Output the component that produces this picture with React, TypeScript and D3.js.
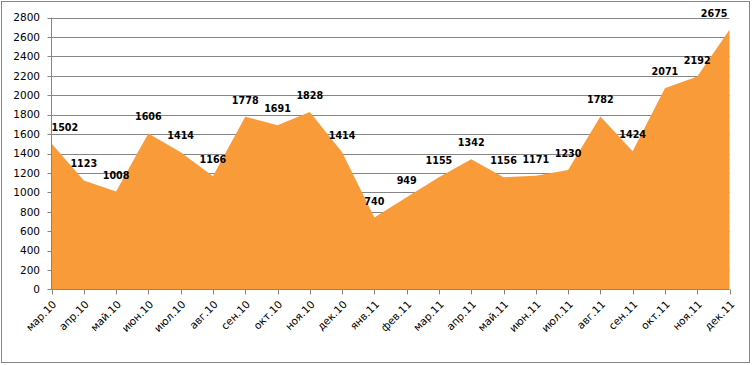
import React from "react";
import * as d3 from "d3";

// months on the x axis
const months = [
  "мар.10", "апр.10", "май.10", "июн.10", "июл.10", "авг.10", "сен.10",
  "окт.10", "ноя.10", "дек.10", "янв.11", "фев.11", "мар.11", "апр.11",
  "май.11", "июн.11", "июл.11", "авг.11", "сен.11", "окт.11", "ноя.11", "дек.11"
];

// values
const values = [
  1502, 1123, 1008, 1606, 1414, 1166, 1778, 1691, 1828, 1414, 740,
  949, 1155, 1342, 1156, 1171, 1230, 1782, 1424, 2071, 2192, 2675
];

const yTicks = [0, 200, 400, 600, 800, 1000, 1200, 1400, 1600, 1800, 2000, 2200, 2400, 2600, 2800];

const W = 752;
const H = 365;
const left = 51.5;
const right = 729.5;
const top = 17.5;
const bottom = 289.5;
const font = "'DejaVu Sans', Verdana, sans-serif";

const App = () => {
  const x = d3.scalePoint<string>().domain(months).range([left, right]);
  const y = d3.scaleLinear().domain([0, 2800]).range([bottom, top]);

  const area = d3
    .area<number>()
    .x((d, i) => x(months[i]) as number)
    .y0(y(0))
    .y1(d => y(d));

  return (
    <svg
      width={W}
      height={H}
      style={{ position: "absolute", left: 0, top: 0, background: "#fff" }}
    >
      {/* outer frame */}
      <rect x={1.5} y={1.5} width={748} height={361} fill="#fff" stroke="#868686" />

      {/* gridlines + y ticks */}
      {yTicks.map(t => (
        <g key={t}>
          {t > 0 && (
            <line x1={left - 4} x2={right} y1={Math.round(y(t)) + 0.5} y2={Math.round(y(t)) + 0.5} stroke="#868686" />
          )}
          <text
            x={40}
            y={y(t)}
            dy="0.36em"
            textAnchor="end"
            fontFamily={font}
            fontSize={10.5}
            fill="#000"
          >
            {t}
          </text>
        </g>
      ))}

      <path d={area(values) || ""} fill="#F99B38" />

      {/* axes */}
      <line x1={left} x2={left} y1={top} y2={bottom} stroke="#868686" />
      <line x1={left - 4} x2={right} y1={bottom} y2={bottom} stroke="#868686" />
      {months.map(m => (
        <g key={m}>
          <line
            x1={Math.round(x(m) as number) + 0.5}
            x2={Math.round(x(m) as number) + 0.5}
            y1={bottom}
            y2={bottom + 5}
            stroke="#868686"
          />
          <text
            transform={`translate(${(x(m) as number) + 3},${bottom + 13}) rotate(-45)`}
            textAnchor="end"
            dy="0.35em"
            fontFamily={font}
            fontSize={10.5}
            fill="#000"
          >
            {m}
          </text>
        </g>
      ))}

      {/* data labels */}
      {values.map((v, i) => {
        const px = x(months[i]) as number;
        const anchor = i === 0 ? "start" : i === values.length - 1 ? "end" : "middle";
        return (
          <text
            key={i}
            x={i === values.length - 1 ? px - 2 : px}
            y={y(v) - 13}
            textAnchor={anchor}
            fontFamily={font}
            fontSize={9.6}
            fontWeight="bold"
            fill="#000"
          >
            {v}
          </text>
        );
      })}
    </svg>
  );
};

export default App;
